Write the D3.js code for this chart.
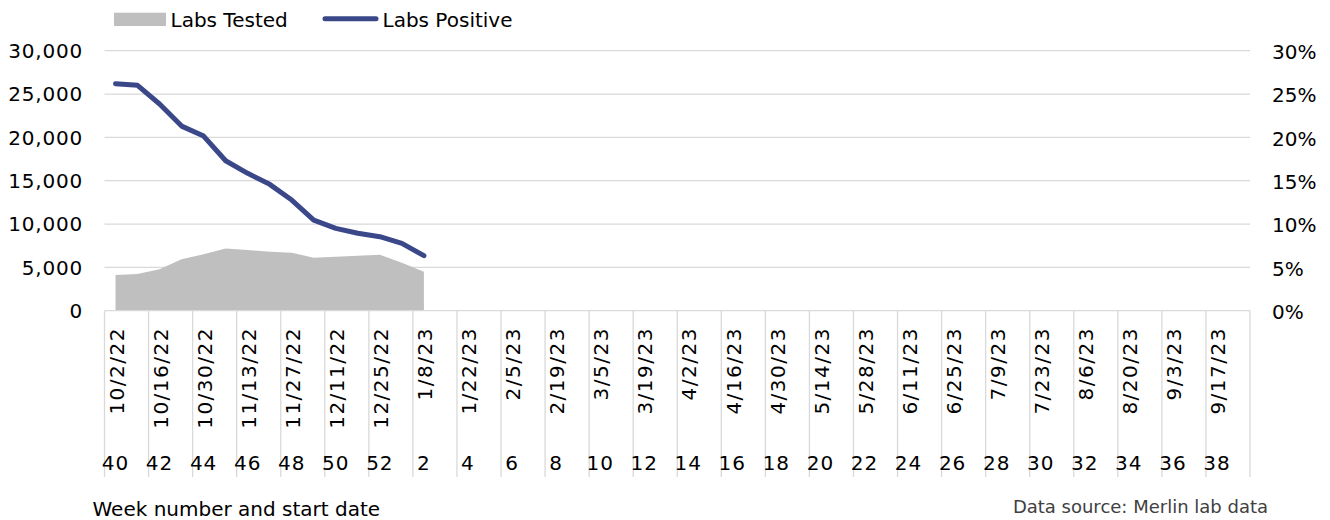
<!DOCTYPE html>
<html>
<head>
<meta charset="utf-8">
<script src="https://cdn.jsdelivr.net/npm/d3@7"></script>
<style>
  body { margin: 0; background: #fff; }
  text { font-family: "DejaVu Sans", sans-serif; fill: #000; }
</style>
</head>
<body>
<svg id="chart"></svg>
<script>
// week numbers and start dates, Oct 2022 - Sep 2023
var weekNumbers = [40,41,42,43,44,45,46,47,48,49,50,51,52,
  1,2,3,4,5,6,7,8,9,10,11,12,13,14,15,16,17,18,19,20,21,22,23,24,25,26,
  27,28,29,30,31,32,33,34,35,36,37,38,39];
var startDates = ["10/2/22","10/9/22","10/16/22","10/23/22","10/30/22","11/6/22","11/13/22",
  "11/20/22","11/27/22","12/4/22","12/11/22","12/18/22","12/25/22",
  "1/1/23","1/8/23","1/15/23","1/22/23","1/29/23","2/5/23","2/12/23","2/19/23","2/26/23",
  "3/5/23","3/12/23","3/19/23","3/26/23","4/2/23","4/9/23","4/16/23","4/23/23","4/30/23",
  "5/7/23","5/14/23","5/21/23","5/28/23","6/4/23","6/11/23","6/18/23","6/25/23",
  "7/2/23","7/9/23","7/16/23","7/23/23","7/30/23","8/6/23","8/13/23","8/20/23","8/27/23",
  "9/3/23","9/10/23","9/17/23","9/24/23"];

// only the first 15 weeks reported so far
var labsTested = [4120,4240,4770,5930,6500,7190,7000,6810,6690,6120,6230,6340,6460,5540,4500];
var labsPositive = [0.262,0.260,0.2385,0.213,0.2015,0.173,0.1585,0.1458,0.1277,0.1046,0.095,0.0893,0.0854,0.0777,0.0635];

var leftTicks = [0,5000,10000,15000,20000,25000,30000];
var rightTicks = [0,0.05,0.10,0.15,0.20,0.25,0.30];

var screen = { width: 1330, height: 520 };
var plot = { left: 104.5, right: 1250, top: 50.7, bottom: 310.7 };

var svg = d3.select("#chart")
  .attr("width", screen.width)
  .attr("height", screen.height);

var xScale = d3.scaleBand()
  .domain(d3.range(weekNumbers.length))
  .range([plot.left, plot.right])
  .padding(0);

var yLeft = d3.scaleLinear().domain([0, 30000]).range([plot.bottom, plot.top]);
var yRight = d3.scaleLinear().domain([0, 0.30]).range([plot.bottom, plot.top]);

var cx = function(i) { return xScale(i) + xScale.bandwidth() / 2; };

// gridlines
svg.append("g").selectAll("line")
  .data(leftTicks.slice(1))
  .enter().append("line")
  .attr("x1", plot.left).attr("x2", plot.right)
  .attr("y1", function(d) { return yLeft(d); })
  .attr("y2", function(d) { return yLeft(d); })
  .style("stroke", "#d9d9d9").style("stroke-width", 1.3);

// left axis labels
svg.append("g").selectAll("text")
  .data(leftTicks)
  .enter().append("text")
  .attr("x", 83)
  .attr("y", function(d) { return yLeft(d); })
  .attr("dy", "0.36em")
  .attr("text-anchor", "end")
  .style("font-size", "20px")
  .style("letter-spacing", "0.8px")
  .text(function(d) { return d3.format(",")(d); });

// right axis labels
svg.append("g").selectAll("text")
  .data(rightTicks)
  .enter().append("text")
  .attr("x", 1272)
  .attr("y", function(d) { return yRight(d) + 1; })
  .attr("dy", "0.36em")
  .style("font-size", "20px")
  .text(function(d) { return d3.format(".0%")(d); });

// labs tested area
var area = d3.area()
  .x(function(d, i) { return cx(i); })
  .y0(yLeft(0))
  .y1(function(d) { return yLeft(d); });

svg.append("path")
  .datum(labsTested)
  .attr("d", area)
  .style("fill", "#bfbfbf");

// x axis line and category separators
svg.append("line")
  .attr("x1", plot.left).attr("x2", plot.right)
  .attr("y1", plot.bottom).attr("y2", plot.bottom)
  .style("stroke", "#d9d9d9").style("stroke-width", 1.3);

var sepIdx = d3.range(0, weekNumbers.length, 2);
svg.append("g").selectAll("line")
  .data(sepIdx.concat([weekNumbers.length]))
  .enter().append("line")
  .attr("x1", function(d) { return d < weekNumbers.length ? xScale(d) : plot.right; })
  .attr("x2", function(d) { return d < weekNumbers.length ? xScale(d) : plot.right; })
  .attr("y1", plot.bottom).attr("y2", 477)
  .style("stroke", "#d9d9d9").style("stroke-width", 1.3);

// date labels (rotated)
svg.append("g").selectAll("text")
  .data(sepIdx)
  .enter().append("text")
  .attr("transform", function(d) { return "translate(" + (cx(d) + 1) + ",327) rotate(-90)"; })
  .attr("dy", "0.36em")
  .attr("text-anchor", "end")
  .style("font-size", "20px")
  .style("letter-spacing", "1.5px")
  .text(function(d) { return startDates[d]; });

// week numbers
svg.append("g").selectAll("text")
  .data(sepIdx)
  .enter().append("text")
  .attr("x", function(d) { return cx(d); })
  .attr("y", 470)
  .attr("text-anchor", "middle")
  .style("font-size", "20px")
  .style("letter-spacing", "1px")
  .text(function(d) { return weekNumbers[d]; });

// labs positive line
var line = d3.line()
  .x(function(d, i) { return cx(i); })
  .y(function(d) { return yRight(d); });

svg.append("path")
  .datum(labsPositive)
  .attr("d", line)
  .style("fill", "none")
  .style("stroke", "#3a4889")
  .style("stroke-width", 5)
  .style("stroke-linecap", "round")
  .style("stroke-linejoin", "round");

// legend
svg.append("rect")
  .attr("x", 114).attr("y", 12.7).attr("width", 52).attr("height", 13.3)
  .style("fill", "#bfbfbf");
svg.append("text")
  .attr("x", 170.5).attr("y", 26.5)
  .style("font-size", "20px")
  .text("Labs Tested");
svg.append("line")
  .attr("x1", 325).attr("x2", 376).attr("y1", 18.7).attr("y2", 18.7)
  .style("stroke", "#3a4889").style("stroke-width", 5)
  .style("stroke-linecap", "round");
svg.append("text")
  .attr("x", 382.5).attr("y", 26.5)
  .style("font-size", "20px")
  .text("Labs Positive");

// footer
svg.append("text")
  .attr("x", 92.5).attr("y", 516)
  .style("font-size", "20px")
  .text("Week number and start date");
svg.append("text")
  .attr("x", 1268).attr("y", 513)
  .attr("text-anchor", "end")
  .style("font-size", "18px")
  .style("fill", "#404040")
  .text("Data source: Merlin lab data");
</script>
</body>
</html>
